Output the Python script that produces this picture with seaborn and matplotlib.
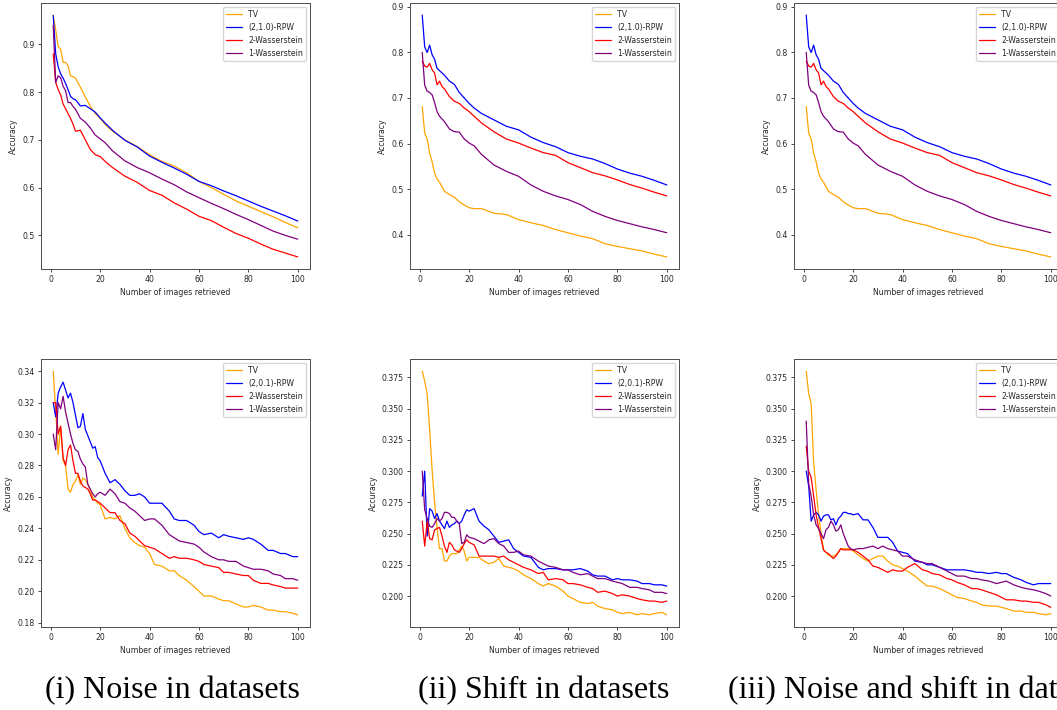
import matplotlib
matplotlib.use("Agg")
import matplotlib.pyplot as plt
import seaborn as sns

# retrieval accuracy vs number of images retrieved (k)
TOP_K = [1, 2, 3, 4, 5, 6, 7, 8, 9, 10,
         12, 14, 16, 18, 20, 22, 25, 30, 35, 40,
         45, 50, 55, 60, 65, 70, 75, 80, 85, 90,
         95, 100]

NOISE_TOP_TV = [.961, .93, .895, .89, .862, .862, .855, .834, .832, .829,
                .81, .79, .77, .755, .745, .732, .718, .70, .686, .669,
                .655, .645, .631, .613, .60, .586, .572, .561, .55, .539,
                .527, .516]
NOISE_TOP_RPW = [.96, .88, .853, .838, .829, .818, .805, .791, .786, .784,
                 .771, .772, .765, .758, .746, .735, .72, .699, .685, .666,
                 .653, .641, .628, .613, .604, .593, .583, .572, .561, .551,
                 .541, .530]
NOISE_TOP_W2 = [.88, .82, .805, .794, .775, .765, .755, .745, .733, .718,
                .72, .70, .68, .669, .665, .655, .642, .624, .611, .594,
                .584, .568, .555, .54, .531, .517, .504, .494, .482, .471,
                .463, .455]
NOISE_TOP_W1 = [.94, .82, .834, .83, .812, .803, .778, .778, .77, .764,
                .745, .737, .725, .71, .702, .694, .677, .656, .642, .631,
                .618, .606, .591, .579, .567, .556, .544, .533, .521, .509,
                .50, .492]

SHIFT_TOP_TV = [.681, .623, .61, .579, .56, .535, .522, .515, .505, .495,
                .488, .482, .472, .465, .459, .457, .457, .447, .444, .433,
                .426, .42, .411, .404, .397, .391, .38, .374, .369, .364,
                .357, .351]
SHIFT_TOP_RPW = [.882, .812, .80, .816, .795, .785, .765, .76, .755, .75,
                 .737, .73, .712, .70, .688, .678, .666, .652, .638, .63,
                 .614, .602, .593, .58, .572, .566, .556, .544, .535, .528,
                 .519, .509]
SHIFT_TOP_W2 = [.781, .77, .768, .776, .762, .755, .729, .737, .725, .72,
                .703, .693, .688, .678, .67, .66, .645, .626, .61, .601,
                .59, .58, .574, .558, .547, .536, .529, .52, .51, .502,
                .493, .485]
SHIFT_TOP_W1 = [.80, .728, .715, .712, .707, .69, .67, .66, .654, .648,
                .632, .626, .625, .61, .601, .595, .576, .553, .539, .528,
                .509, .495, .485, .477, .466, .451, .44, .431, .424, .417,
                .411, .404]

BOT_K = [1, 2, 3, 4, 5, 6, 7, 8, 9, 10,
         11, 12, 13, 14, 15, 16, 17, 18, 19, 20,
         22, 24, 26, 28, 30, 32, 34, 36, 38, 40,
         42, 45, 48, 50, 52, 55, 58, 60, 62, 65,
         68, 70, 72, 75, 78, 80, 82, 85, 88, 90,
         93, 95, 98, 100]

NOISE_BOT_TV = [.34, .315, .287, .305, .283, .28, .265, .263, .268, .27,
                .274, .268, .272, .271, .268, .264, .26, .258, .256, .255,
                .246, .247, .246, .248, .24, .234, .231, .229, .228, .224,
                .217, .216, .213, .213, .21, .207, .203, .20, .197, .197,
                .195, .194, .194, .192, .19, .19, .191, .19, .188, .188,
                .187, .187, .186, .185]
NOISE_BOT_RPW = [.32, .311, .326, .33, .333, .328, .323, .326, .32, .312,
                 .304, .305, .313, .303, .299, .295, .291, .292, .285, .283,
                 .275, .269, .271, .268, .264, .261, .261, .262, .26, .256,
                 .256, .256, .251, .246, .245, .245, .242, .238, .236, .237,
                 .234, .236, .235, .234, .233, .234, .233, .23, .226, .226,
                 .224, .224, .222, .222]
NOISE_BOT_W2 = [.32, .32, .30, .305, .285, .28, .29, .293, .283, .275,
                .275, .27, .267, .266, .265, .262, .258, .258, .257, .256,
                .253, .25, .25, .245, .243, .237, .235, .232, .229, .228,
                .227, .224, .221, .222, .221, .221, .22, .219, .217, .216,
                .215, .212, .212, .211, .21, .21, .207, .205, .205, .204,
                .203, .202, .202, .202]
NOISE_BOT_W1 = [.30, .29, .32, .316, .324, .314, .307, .30, .294, .29,
                .289, .284, .281, .279, .268, .265, .262, .26, .262, .263,
                .261, .265, .262, .257, .256, .253, .251, .248, .245, .246,
                .246, .242, .236, .234, .232, .231, .23, .228, .225, .222,
                .22, .22, .219, .219, .216, .215, .214, .214, .213, .211,
                .21, .208, .208, .207]

SHIFT_BOT_TV = [.38, .372, .362, .333, .301, .275, .255, .238, .238, .228,
                .228, .232, .234, .234, .234, .237, .24, .236, .228, .231,
                .231, .231, .228, .226, .227, .23, .224, .223, .222, .22,
                .217, .214, .21, .208, .21, .208, .204, .20, .198, .195,
                .194, .195, .192, .19, .189, .187, .186, .187, .185, .186,
                .185, .186, .187, .185]
SHIFT_BOT_RPW = [.28, .30, .248, .27, .268, .262, .266, .26, .257, .254,
                 .26, .255, .257, .258, .26, .258, .26, .265, .269, .268,
                 .27, .26, .256, .253, .248, .243, .244, .245, .238, .235,
                 .232, .231, .223, .221, .222, .222, .221, .221, .221, .222,
                 .22, .217, .216, .216, .213, .214, .213, .213, .212, .21,
                 .21, .209, .209, .208]
SHIFT_BOT_W2 = [.26, .24, .26, .246, .245, .253, .254, .255, .248, .24,
                .235, .243, .241, .237, .236, .235, .238, .242, .245, .243,
                .241, .232, .232, .232, .232, .231, .232, .229, .227, .225,
                .223, .221, .218, .219, .213, .214, .213, .21, .21, .209,
                .207, .206, .203, .204, .202, .20, .201, .20, .198, .197,
                .196, .196, .195, .196]
SHIFT_BOT_W1 = [.30, .269, .262, .256, .255, .258, .262, .26, .262, .267,
                .267, .266, .263, .263, .26, .258, .242, .243, .249, .247,
                .246, .244, .242, .245, .246, .242, .24, .235, .235, .236,
                .233, .232, .228, .226, .224, .223, .221, .221, .219, .217,
                .218, .216, .214, .214, .212, .211, .21, .207, .207, .206,
                .205, .203, .203, .202]

BOTH_BOT_TV = [.38, .362, .354, .307, .285, .265, .25, .237, .235, .233,
               .232, .232, .233, .235, .238, .238, .238, .238, .238, .236,
               .233, .23, .228, .23, .232, .232, .228, .225, .224, .222,
               .22, .216, .211, .208, .208, .206, .203, .201, .199, .198,
               .196, .195, .193, .192, .192, .191, .19, .188, .188, .187,
               .187, .186, .185, .186]
BOTH_BOT_RPW = [.30, .288, .26, .265, .267, .265, .26, .264, .265, .265,
                .261, .262, .257, .262, .264, .267, .267, .266, .266, .265,
                .266, .261, .261, .255, .247, .247, .247, .243, .236, .235,
                .234, .228, .227, .225, .225, .223, .221, .221, .221, .221,
                .22, .219, .219, .218, .219, .218, .218, .215, .213, .211,
                .209, .21, .21, .21]
BOTH_BOT_W2 = [.32, .30, .295, .28, .265, .255, .246, .237, .235, .234,
               .232, .23, .232, .235, .238, .237, .237, .237, .237, .237,
               .235, .232, .229, .224, .223, .221, .219, .221, .22, .22,
               .223, .226, .221, .22, .218, .217, .214, .213, .211, .209,
               .206, .206, .205, .203, .201, .199, .197, .197, .196, .196,
               .195, .195, .193, .191]
BOTH_BOT_W1 = [.34, .29, .28, .265, .257, .254, .25, .246, .253, .255,
               .26, .257, .252, .253, .257, .25, .245, .24, .238, .237,
               .238, .238, .239, .24, .238, .24, .238, .237, .236, .232,
               .232, .229, .227, .226, .226, .223, .22, .218, .216, .216,
               .214, .214, .213, .212, .21, .211, .212, .209, .207, .206,
               .205, .204, .202, .20]

LABELS_TOP = ["TV", "(2,1.0)-RPW", "2-Wasserstein", "1-Wasserstein"]
LABELS_BOT = ["TV", "(2,0.1)-RPW", "2-Wasserstein", "1-Wasserstein"]
COLORS = ["orange", "blue", "red", "purple"]
CAPTIONS = ["(i) Noise in datasets", "(ii) Shift in datasets",
            "(iii) Noise and shift in datasets"]

FS = 5.6


def draw_panel(ax, k, series, labels):
    for values, label, color in zip(series, labels, COLORS):
        sns.lineplot(x=k, y=values, ax=ax, color=color, label=label,
                     linewidth=0.9)
    ax.set_xticks([0, 20, 40, 60, 80, 100])
    ax.set_xlabel("Number of images retrieved", fontsize=FS, labelpad=2.5)
    ax.set_ylabel("Accuracy", fontsize=FS, labelpad=3)
    ax.tick_params(labelsize=FS, length=2.5, width=0.6, pad=2)
    for sp in ax.spines.values():
        sp.set_linewidth(0.7)
        sp.set_color("0.3")
    ax.legend(loc="upper right", fontsize=FS, handlelength=2.0)


sns.set_style("ticks")
plt.rcParams["font.family"] = ["DejaVu Sans"]

fig = plt.figure(figsize=(10.57, 7.1), dpi=100)

W, H = 1057.0, 710.0
lefts = [41, 410, 794]
rows = [(3, 269), (359, 627)]
aw = 269

panels = [
    (TOP_K, [NOISE_TOP_TV, NOISE_TOP_RPW, NOISE_TOP_W2, NOISE_TOP_W1], LABELS_TOP),
    (TOP_K, [SHIFT_TOP_TV, SHIFT_TOP_RPW, SHIFT_TOP_W2, SHIFT_TOP_W1], LABELS_TOP),
    (TOP_K, [SHIFT_TOP_TV, SHIFT_TOP_RPW, SHIFT_TOP_W2, SHIFT_TOP_W1], LABELS_TOP),
    (BOT_K, [NOISE_BOT_TV, NOISE_BOT_RPW, NOISE_BOT_W2, NOISE_BOT_W1], LABELS_BOT),
    (BOT_K, [SHIFT_BOT_TV, SHIFT_BOT_RPW, SHIFT_BOT_W2, SHIFT_BOT_W1], LABELS_BOT),
    (BOT_K, [BOTH_BOT_TV, BOTH_BOT_RPW, BOTH_BOT_W2, BOTH_BOT_W1], LABELS_BOT),
]

for i, (k, series, labels) in enumerate(panels):
    top, bottom = rows[i // 3]
    left = lefts[i % 3]
    ax = fig.add_axes([left / W, 1 - bottom / H, aw / W, (bottom - top) / H])
    draw_panel(ax, k, series, labels)

# captions under each column; the third one runs off the right edge as in the source
cap_x = [45, 418, 728]
for x, text in zip(cap_x, CAPTIONS):
    fig.text(x / W, 1 - 691 / H, text, ha="left", va="center",
             fontsize=23, family=["Liberation Serif", "DejaVu Serif"],
             color="black")

fig.savefig("out.png", dpi=100)
